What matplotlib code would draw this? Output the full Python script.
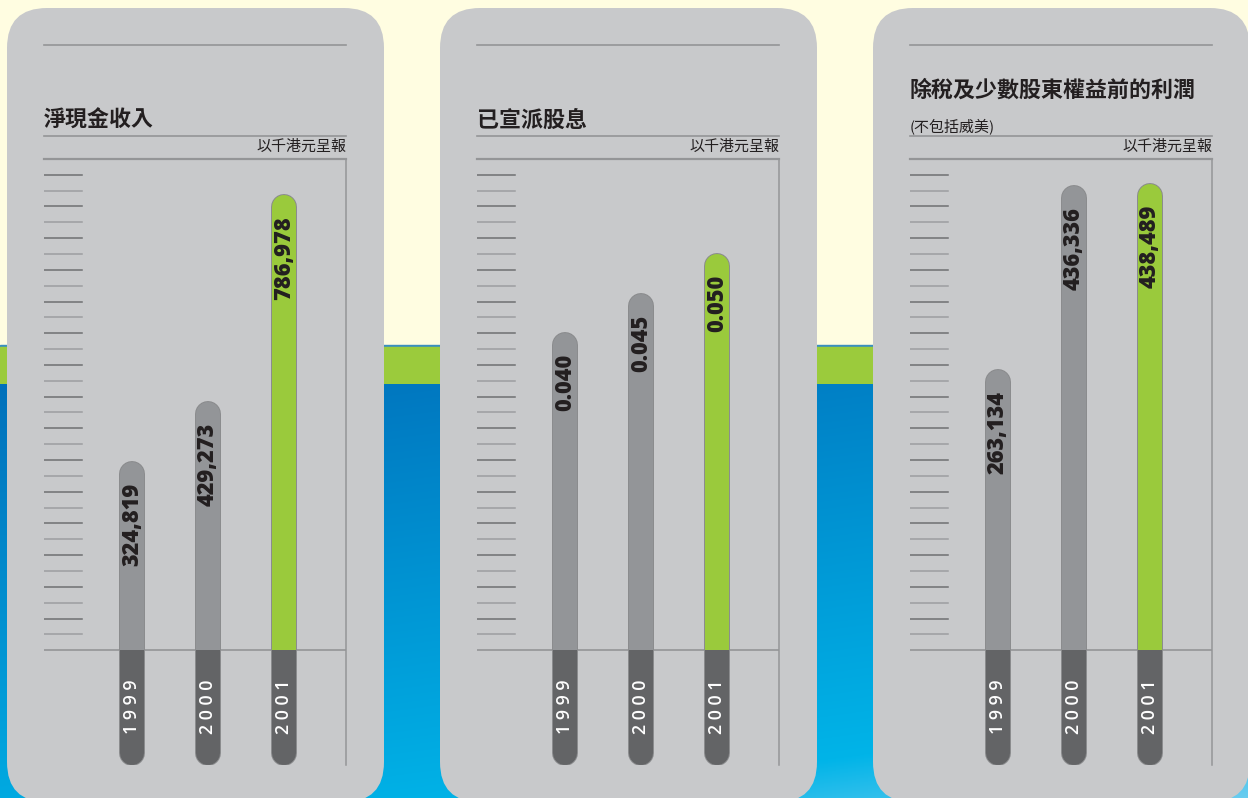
import numpy as np
import matplotlib
matplotlib.use("Agg")
import matplotlib.pyplot as plt
from matplotlib.patches import FancyBboxPatch, Rectangle
from matplotlib.transforms import ScaledTranslation
from matplotlib.colors import to_rgb
import matplotlib.patheffects as pe

plt.rcParams['font.family'] = ['Noto Sans CJK TC', 'DejaVu Sans']

# ---- data ----
years = ['1999', '2000', '2001']
cash_income = [324819, 429273, 786978]          # 淨現金收入 (以千港元)
dividends = [0.040, 0.045, 0.050]                # 已宣派股息
profit_before_tax = [263134, 436336, 438489]     # 除稅及少數股東權益前的利潤
titles = ['淨現金收入', '已宣派股息', '除稅及少數股東權益前的利潤']
subtitles = ['', '', '(不包括威美)']
unit_label = '以千港元呈報'
value_labels = [['324,819', '429,273', '786,978'],
                ['0.040', '0.045', '0.050'],
                ['263,134', '436,336', '438,489']]
series = [cash_income, dividends, profit_before_tax]
ymax = [850000, 0.062, 462000]

W, H = 1248, 798
fig = plt.figure(figsize=(W / 100, H / 100), dpi=100)

# ---- background ----
bg = fig.add_axes([0, 0, 1, 1])
bg.set_xlim(0, W)
bg.set_ylim(H, 0)
bg.axis('off')
bg.add_patch(Rectangle((0, 0), W, 346, color='#FFFDE1', zorder=0))
bg.add_patch(Rectangle((0, 345), W, 2, color='#3A8FC0', zorder=0))
bg.add_patch(Rectangle((0, 347), W, 37, color='#9BCB3C', zorder=0))
yy, xx = np.mgrid[384:H, 0:W:4]
t = np.clip((yy - 384) / 415 * 0.85 + xx / W * 0.35, 0, 1.2)
c0 = np.array(to_rgb('#0070BB'))
c1 = np.array(to_rgb('#00B4E8'))
c2 = np.array(to_rgb('#6CCDF0'))
grad = np.where(t[..., None] <= 1,
                c0 + (c1 - c0) * np.minimum(t, 1)[..., None],
                c1 + (c2 - c1) * ((t - 1) / 0.2)[..., None])
bg.imshow(grad, extent=(0, W, H, 384), aspect='auto', zorder=0.5)

panel_color = '#C8C9CB'
line_color = '#949597'
text_color = '#231F20'

for i in range(3):
    px = 7 + 433 * i
    bg.add_patch(FancyBboxPatch((px, 8), 377, 794,
                                boxstyle='round,pad=0,rounding_size=40',
                                facecolor=panel_color, edgecolor='none', zorder=1))
    # top rule, title rule
    bg.plot([px + 37, px + 339], [45, 45], color=line_color, lw=1.2, zorder=2)
    bg.plot([px + 37, px + 339], [136, 136], color=line_color, lw=1.2, zorder=2)
    if subtitles[i]:
        bg.text(px + 37, 90, titles[i], fontsize=15.8, fontweight='bold',
                color=text_color, ha='left', va='center', zorder=3)
        bg.text(px + 37, 126, subtitles[i], fontsize=10.8, color=text_color,
                ha='left', va='center', zorder=3)
    else:
        bg.text(px + 37, 120, titles[i], fontsize=15.8, fontweight='bold',
                color=text_color, ha='left', va='center', zorder=3)
    bg.text(px + 339, 147, unit_label, fontsize=10.8, color=text_color,
            ha='right', va='center', zorder=3)

# ---- charts ----
bar_w_pt = 24 * 0.72
r_in = 12 / 100.0
ax_h = 606
for i in range(3):
    px = 7 + 433 * i
    ax = fig.add_axes([(px + 37) / W, 1 - 765 / H, 302 / W, ax_h / H])
    ax.patch.set_alpha(0)
    top = ymax[i]
    bottom = -top * 115 / 491
    ax.set_ylim(bottom, top)
    ax.set_xlim(-88 / 76, -88 / 76 + 302 / 76)
    ax.set_xticks([])
    ax.set_yticks([])
    for s in ['left', 'bottom']:
        ax.spines[s].set_visible(False)
    ax.spines['top'].set_color(line_color)
    ax.spines['top'].set_linewidth(1.6)
    ax.spines['right'].set_color(line_color)
    ax.spines['right'].set_linewidth(1.1)
    ax.axhline(0, color=line_color, lw=1.2, zorder=1)

    # scale ticks
    for k in range(30):
        yf = 1 - (15.7 + 15.85 * k) / ax_h
        ax.plot([0, 38 / 302], [yf, yf], transform=ax.transAxes,
                color='#6E6F71' if k % 2 == 0 else '#9C9DA0', lw=1.1, zorder=1)

    down = ax.transData + ScaledTranslation(0, -r_in, fig.dpi_scale_trans)
    up = ax.transData + ScaledTranslation(0, r_in, fig.dpi_scale_trans)
    clip = Rectangle((-2, bottom), 6, -bottom, transform=ax.transData)
    for j, v in enumerate(series[i]):
        col = '#9ACA3C' if j == 2 else '#939598'
        ax.plot([j, j], [0, v], transform=down, color=col, lw=bar_w_pt,
                solid_capstyle='round', zorder=2,
                path_effects=[pe.Stroke(linewidth=bar_w_pt + 1.4, foreground='#8A8B8D'),
                              pe.Normal()])
        yr = ax.plot([j, j], [0, bottom], transform=up, color='#636466', lw=bar_w_pt,
                     solid_capstyle='round', zorder=3,
                     path_effects=[pe.Stroke(linewidth=bar_w_pt + 1.4, foreground='#8A8B8D'),
                                   pe.Normal()])[0]
        yr.set_clip_path(clip)
        ax.annotate(value_labels[i][j], (j, v), xytext=(0, -15), textcoords='offset points',
                    rotation=90, ha='center', va='top', fontsize=15.7,
                    fontweight='heavy', family=['Open Sans', 'DejaVu Sans'],
                    color=text_color, zorder=4)
        ax.annotate(' '.join(years[j]), (j, 0), xytext=(0, -57 * 0.72),
                    textcoords='offset points', rotation=90, ha='center', va='center',
                    fontsize=12.8, fontweight='semibold', family=['Open Sans', 'DejaVu Sans'],
                    color='white', zorder=4)

fig.savefig('out.png', dpi=100)
